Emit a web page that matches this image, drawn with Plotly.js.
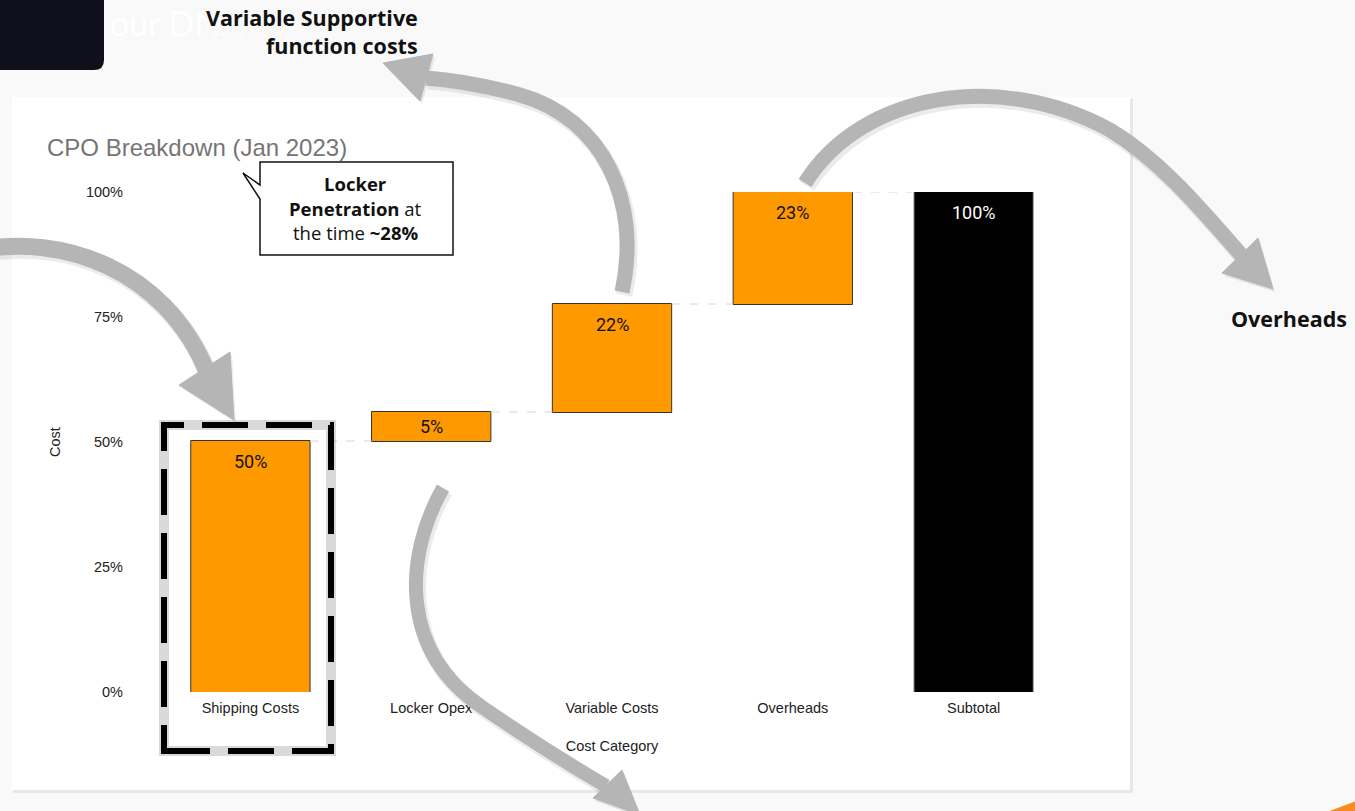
<!DOCTYPE html>
<html>
<head>
<meta charset="utf-8">
<script src="https://cdn.plot.ly/plotly-3.0.1.min.js"></script>
<style>
  html, body { margin: 0; padding: 0; background: #f9f9f9; }
  #chart { width: 1355px; height: 811px; }
</style>
</head>
<body>
<div id="chart"></div>
<script>
// ---- data ----
const categories = ["Shipping Costs", "Locker Opex", "Variable Costs", "Overheads", "Subtotal"];
const measures   = ["relative", "relative", "relative", "relative", "total"];
const values     = [50.2, 5.8, 21.6, 22.4, null];
const barLabels  = ["50%", "5%", "22%", "23%", "100%"];
const yTickVals  = [0, 25, 50, 75, 100];
const yTickText  = ["0%", "25%", "50%", "75%", "100%"];

// ---- geometry helpers (pixel -> paper) ----
const W = 1355, H = 811, ML = 160, MR = 291, MT = 192, MB = 119;
const PW = W - ML - MR, PH = H - MT - MB;
const fx = x => ((x - ML) / PW).toFixed(5);
const fy = y => ((H - MB - y) / PH).toFixed(5);
function path(cmds) {
  return cmds.map(c => {
    const op = c[0]; const nums = c.slice(1);
    let out = op;
    for (let i = 0; i < nums.length; i += 2) out += (i ? " " : "") + fx(nums[i]) + "," + fy(nums[i + 1]);
    return out;
  }).join(" ");
}
function rect(x0, y0, x1, y1, extra) {
  return Object.assign({type: "rect", xref: "paper", yref: "paper",
    x0: +fx(x0), x1: +fx(x1), y0: +fy(y1), y1: +fy(y0)}, extra);
}
function pshape(cmds, extra) {
  return Object.assign({type: "path", xref: "paper", yref: "paper", path: path(cmds)}, extra);
}

const arrowColor = "#b5b5b5";
const shadowColor = "rgba(0,0,0,0.08)";

// arrow bodies & heads (pixel coordinates)
const arrows = [
  { body: [["M", -20, 250], ["C", 60, 234, 165, 268, 207, 372]],
    head: [["M", 234, 420], ["L", 179, 385], ["L", 230, 352], ["Z"]], w: 17 },
  { body: [["M", 443, 488], ["C", 405, 555, 398, 650, 482, 707], ["C", 530, 740, 565, 762, 606, 786]],
    head: [["M", 640, 815], ["L", 593, 798], ["L", 622, 770], ["Z"]], w: 14 },
  { body: [["M", 622, 292], ["C", 642, 200, 602, 118, 520, 95], ["C", 480, 84, 455, 80, 426, 78]],
    head: [["M", 383, 63], ["L", 433, 54], ["L", 420, 101], ["Z"]], w: 15 },
  { body: [["M", 805, 183], ["C", 862, 92, 1000, 70, 1110, 130], ["C", 1160, 160, 1200, 208, 1242, 256]],
    head: [["M", 1273, 289], ["L", 1222, 273], ["L", 1258, 238], ["Z"]], w: 15 }
];

const shapes = [];
// card shadow + card
shapes.push(rect(13, 99, 1133, 793, {fillcolor: "rgba(0,0,0,0.07)", line: {width: 0}, layer: "below"}));
shapes.push(rect(12, 97, 1130, 790, {fillcolor: "#ffffff", line: {width: 0}, layer: "below"}));
// top-left dark tab
shapes.push(pshape([["M", 0, 0], ["L", 104, 0], ["L", 104, 60], ["Q", 104, 70, 94, 70], ["L", 0, 70], ["Z"]],
  {fillcolor: "#100f1c", line: {width: 0}, layer: "above"}));
// orange corner
shapes.push(pshape([["M", 1327, 812], ["L", 1356, 801], ["L", 1356, 812], ["Z"]],
  {fillcolor: "#f68b1f", line: {width: 0}, layer: "above"}));
// dashed highlight box (soft shadow + dashes)
shapes.push(rect(164, 425, 331, 751, {line: {color: "rgba(120,120,120,0.28)", width: 10}, layer: "above"}));
shapes.push(rect(164, 425, 331, 751, {line: {color: "#000000", width: 6, dash: "46px,18px"}, layer: "above"}));
// arrows
const off = (cmds) => cmds.map(c => [c[0]].concat(c.slice(1).map((v, i) => v + (i % 2 ? 3 : 2))));
arrows.forEach(a => {
  shapes.push(pshape(off(a.body), {line: {color: shadowColor, width: a.w + 2}, layer: "above"}));
  shapes.push(pshape(off(a.head), {fillcolor: shadowColor, line: {width: 0}, layer: "above"}));
});
arrows.forEach(a => {
  shapes.push(pshape(a.body, {line: {color: arrowColor, width: a.w}, layer: "above"}));
  shapes.push(pshape(a.head, {fillcolor: arrowColor, line: {color: arrowColor, width: 1}, layer: "above"}));
});
// callout bubble
shapes.push(pshape([["M", 260, 162], ["L", 453, 162], ["L", 453, 255], ["L", 260, 255], ["L", 260, 199],
  ["L", 243, 173], ["L", 260, 185], ["Z"]], {fillcolor: "#ffffff", line: {color: "#111", width: 1.5}, layer: "above"}));

const slideFont = "'Open Sans', Lato, sans-serif";
function ann(text, x, y, xanchor, size, color, family, bg, yanchor) {
  const a = {text, xref: "paper", yref: "paper", x: +fx(x), y: +fy(y), xanchor, yanchor: yanchor || "middle",
    showarrow: false, font: {family: family || slideFont, size, color: color || "#111"}};
  if (bg) { a.bgcolor = bg; }
  return a;
}
const annotations = [
  ann("our DNA", 108, 0, "left", 34, "#ffffff", "Lato", null, "top"),
  ann("<b>Variable Supportive</b>", 420, 18, "right", 21.5, "#111", null, "#f9f9f9"),
  ann("<b>function costs</b>", 420, 46, "right", 21.5),
  ann("<b>Overheads</b>", 1349, 318, "right", 21.5),
  ann("<b>Locker</b>", 356, 183, "center", 18.5),
  ann("<b>Penetration</b> at", 356, 208, "center", 18.5),
  ann("the time <b>~28%</b>", 356, 233, "center", 18.5)
];

// bar value labels placed through the data scales (near the top of each bar)
let cum = 0;
values.forEach((v, i) => {
  let top, h;
  if (measures[i] === "total") { top = cum; h = cum; } else { cum += v; top = cum; h = v; }
  annotations.push({
    text: barLabels[i], xref: "x", yref: "y", x: categories[i], y: top - Math.min(4, h / 2),
    yanchor: "middle", xanchor: "center", showarrow: false,
    font: {family: "Roboto, sans-serif", size: 18, color: measures[i] === "total" ? "#ffffff" : "#111"}
  });
});

const tickFont = {family: "'Liberation Sans', Arial, sans-serif", size: 14.5, color: "#222"};

const trace = {
  type: "waterfall",
  x: categories,
  y: values,
  measure: measures,
  textposition: "none",
  increasing: {marker: {color: "#ff9900", line: {color: "#333333", width: 1}}},
  decreasing: {marker: {color: "#ff9900", line: {color: "#333333", width: 1}}},
  totals: {marker: {color: "#000000", line: {color: "#9a9a9a", width: 1}}},
  connector: {mode: "between", line: {color: "#d6d6d6", width: 1, dash: "dash"}},
  hoverinfo: "skip",
  cliponaxis: false
};

const layout = {
  width: W, height: H,
  margin: {l: ML, r: MR, t: MT, b: MB, pad: 0},
  paper_bgcolor: "#f9f9f9",
  plot_bgcolor: "rgba(0,0,0,0)",
  showlegend: false,
  waterfallgap: 0.34,
  title: {text: "CPO Breakdown (Jan 2023)", xref: "container", yref: "container",
    x: 47 / W, xanchor: "left", y: 1 - 148 / H, yanchor: "middle",
    font: {family: "'Liberation Sans', Arial, sans-serif", size: 24, color: "#757575"}},
  xaxis: {type: "category", showgrid: false, zeroline: false, showline: false, ticks: "",
    tickfont: tickFont, ticklabelstandoff: 5,
    title: {text: "Cost Category", standoff: 26, font: tickFont}},
  yaxis: {range: [0, 100], tickmode: "array", tickvals: yTickVals, ticktext: yTickText,
    showgrid: false, zeroline: false, showline: false,
    ticks: "", ticklabelstandoff: 36, tickfont: tickFont,
    title: {text: "Cost", standoff: 21, font: tickFont}},
  shapes, annotations
};

Plotly.newPlot("chart", [trace], layout, {displayModeBar: false, staticPlot: true});
</script>
</body>
</html>
